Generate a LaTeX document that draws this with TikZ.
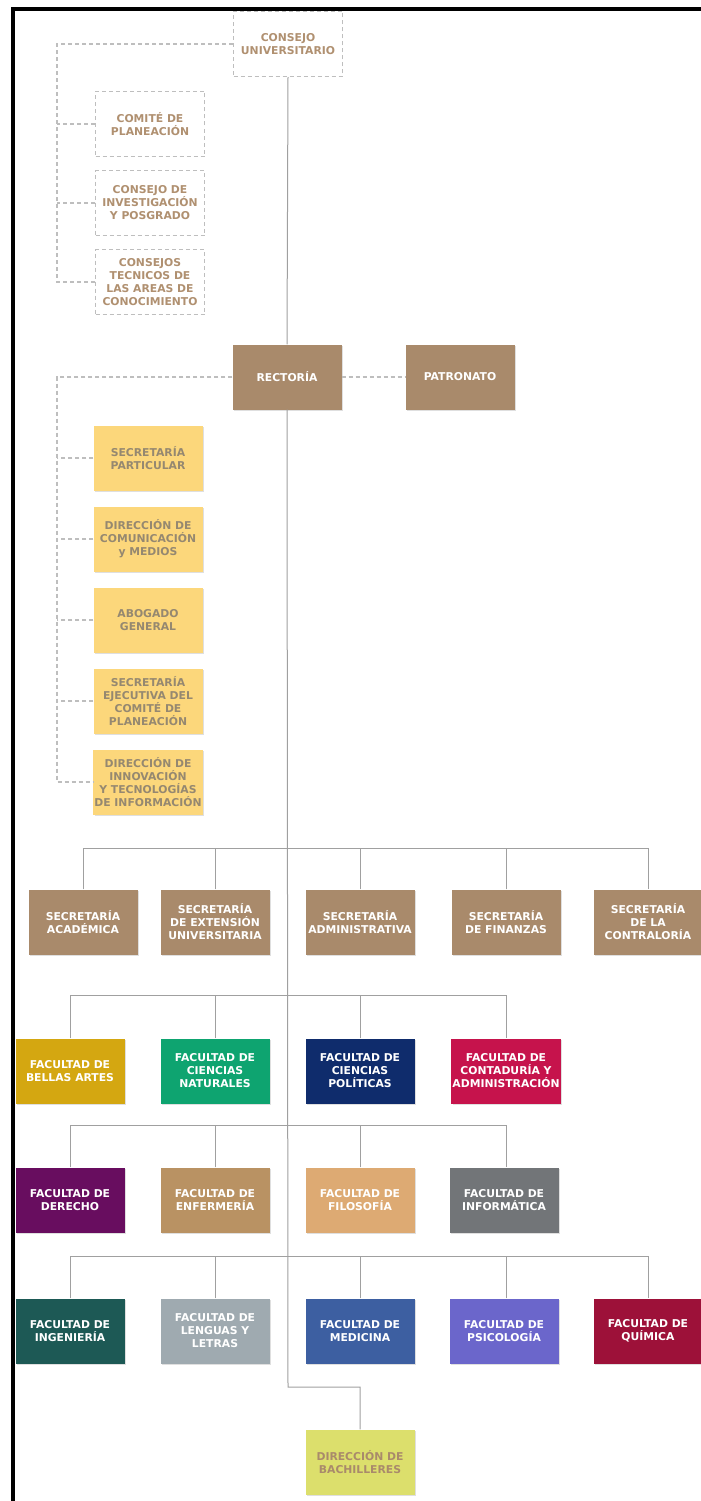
\documentclass[tikz,border=0pt]{standalone}
\usepackage{fontspec}
\setmainfont{DejaVu Sans}
\usetikzlibrary{positioning,shadows}

\definecolor{cafe}{HTML}{A98A6B}
\definecolor{cafetexto}{HTML}{B09070}
\definecolor{amarillo}{HTML}{FCD77B}
\definecolor{amtexto}{HTML}{958870}
\definecolor{linea}{HTML}{A0A0A0}
\definecolor{guiongris}{HTML}{BEBEBE}
\definecolor{fba}{HTML}{D4A711}
\definecolor{fcn}{HTML}{0EA470}
\definecolor{fcp}{HTML}{0F2C6C}
\definecolor{fca}{HTML}{C6134C}
\definecolor{fde}{HTML}{680D5F}
\definecolor{fen}{HTML}{B99263}
\definecolor{ffi}{HTML}{DDAA73}
\definecolor{fin}{HTML}{727578}
\definecolor{fing}{HTML}{1D5955}
\definecolor{fll}{HTML}{9FAAB0}
\definecolor{fme}{HTML}{3D5FA1}
\definecolor{fps}{HTML}{6B66CB}
\definecolor{fqu}{HTML}{9D1139}
\definecolor{bach}{HTML}{DCDF6C}

\begin{document}
\begin{tikzpicture}[x=1pt,y=-1pt,
    caja/.style={minimum width=109pt,minimum height=65pt,align=center,
      inner sep=1pt,font=\fontsize{10.8}{13}\selectfont\bfseries},
    sombra/.style={drop shadow={shadow xshift=1.5pt,shadow yshift=-1.5pt,opacity=0.25}},
    consejo/.style={caja,draw=guiongris,dash pattern=on 4pt off 3pt,
      line width=1.1pt,fill=white,text=cafetexto},
    mando/.style={caja,sombra,fill=cafe,text=white},
    apoyo/.style={caja,sombra,fill=amarillo,text=amtexto},
    facultad/.style={caja,sombra,fill=#1,text=white},
    guion/.style={draw=guiongris,line width=1.1pt,dash pattern=on 4pt off 3pt},
    rama/.style={draw=linea,line width=1pt}]
  \useasboundingbox (0,0) rectangle (701,1501);
  \fill[white] (0,0) rectangle (701,1501);

  \node[consejo] (cu) at (288,44) {CONSEJO\\UNIVERSITARIO};
  \node[consejo] (cp) at (150,124) {COMITÉ DE\\PLANEACIÓN};
  \node[consejo] (cip) at (150,203) {CONSEJO DE\\INVESTIGACIÓN\\Y POSGRADO};
  \node[consejo] (cta) at (150,282) {CONSEJOS\\TECNICOS DE\\LAS AREAS DE\\CONOCIMIENTO};

  \node[mando] (rect) at (287,377) {RECTORÍA};
  \node[mando] (patr) at (460,377) {PATRONATO};

  \node[apoyo] (sp) at (148,458) {SECRETARÍA\\PARTICULAR};
  \node[apoyo] (dcm) at (148,539) {DIRECCIÓN DE\\COMUNICACIÓN\\y MEDIOS};
  \node[apoyo] (ag) at (148,620) {ABOGADO\\GENERAL};
  \node[apoyo] (sec) at (148,701) {SECRETARÍA\\EJECUTIVA DEL\\COMITÉ DE\\PLANEACIÓN};
  \node[apoyo] (dit) at (148,782) {DIRECCIÓN DE\\INNOVACIÓN\\Y TECNOLOGÍAS\\DE INFORMACIÓN};

  \node[mando] (sacad) at (83,922) {SECRETARÍA\\ACADÉMICA};
  \node[mando] (sext) at (215,922) {SECRETARÍA\\DE EXTENSIÓN\\UNIVERSITARIA};
  \node[mando] (sadm) at (360,922) {SECRETARÍA\\ADMINISTRATIVA};
  \node[mando] (sfin) at (506,922) {SECRETARÍA\\DE FINANZAS};
  \node[mando] (scon) at (648,922) {SECRETARÍA\\DE LA\\CONTRALORÍA};

  \node[facultad=fba] (f1) at (70,1071) {FACULTAD DE\\BELLAS ARTES};
  \node[facultad=fcn] (f2) at (215,1071) {FACULTAD DE\\CIENCIAS\\NATURALES};
  \node[facultad=fcp] (f3) at (360,1071) {FACULTAD DE\\CIENCIAS\\POLÍTICAS};
  \node[facultad=fca] (f4) at (506,1071) {FACULTAD DE\\CONTADURÍA Y\\ADMINISTRACIÓN};

  \node[facultad=fde] (f5) at (70,1200) {FACULTAD DE\\DERECHO};
  \node[facultad=fen] (f6) at (215,1200) {FACULTAD DE\\ENFERMERÍA};
  \node[facultad=ffi] (f7) at (360,1200) {FACULTAD DE\\FILOSOFÍA};
  \node[facultad=fin] (f8) at (504,1200) {FACULTAD DE\\INFORMÁTICA};

  \node[facultad=fing] (f9) at (70,1331) {FACULTAD DE\\INGENIERÍA};
  \node[facultad=fll] (f10) at (215,1331) {FACULTAD DE\\LENGUAS Y\\LETRAS};
  \node[facultad=fme] (f11) at (360,1331) {FACULTAD DE\\MEDICINA};
  \node[facultad=fps] (f12) at (504,1331) {FACULTAD DE\\PSICOLOGÍA};
  \node[facultad=fqu] (f13) at (648,1331) {FACULTAD DE\\QUÍMICA};

  \node[caja,sombra,fill=bach,text=cafe] (bach) at (360,1462) {DIRECCIÓN DE\\BACHILLERES};

  \coordinate (izq1) at (57,44);
  \coordinate (izq2) at (57,377);
  \coordinate (bus1) at (288,848);
  \coordinate (bus2) at (288,995);
  \coordinate (bus3) at (288,1125);
  \coordinate (bus4) at (288,1256);
  \coordinate (codo) at (288,1387);

  \draw[guion] (cu.west) -- (izq1) |- (cta.west);
  \foreach \n in {cp,cip}
    \draw[guion] (\n.west) -- (\n.west -| izq1);
  \draw[guion] (rect.west) -- (izq2) |- (dit.west);
  \foreach \n in {sp,dcm,ag,sec}
    \draw[guion] (\n.west) -- (\n.west -| izq2);
  \draw[guion] (rect.east) -- (patr.west);

  \draw[rama] (cu.south) -- (rect.north);
  \draw[rama] (rect.south) -- (codo) -| (bach.north);
  \draw[rama] (sacad.north) |- (bus1) -| (scon.north);
  \foreach \n in {sext,sadm,sfin}
    \draw[rama] (\n.north) -- (\n.north |- bus1);
  \draw[rama] (f1.north) |- (bus2) -| (f4.north);
  \foreach \n in {f2,f3}
    \draw[rama] (\n.north) -- (\n.north |- bus2);
  \draw[rama] (f5.north) |- (bus3) -| ([xshift=2pt]f8.north);
  \foreach \n in {f6,f7}
    \draw[rama] (\n.north) -- (\n.north |- bus3);
  \draw[rama] (f9.north) |- (bus4) -| (f13.north);
  \foreach \n in {f10,f11}
    \draw[rama] (\n.north) -- (\n.north |- bus4);
  \draw[rama] ([xshift=2pt]f12.north) -- ([xshift=2pt]f12.north |- bus4);

  \draw[line width=4pt] (12.5,1501) -- (12.5,9) -- (701,9);
\end{tikzpicture}
\end{document}
